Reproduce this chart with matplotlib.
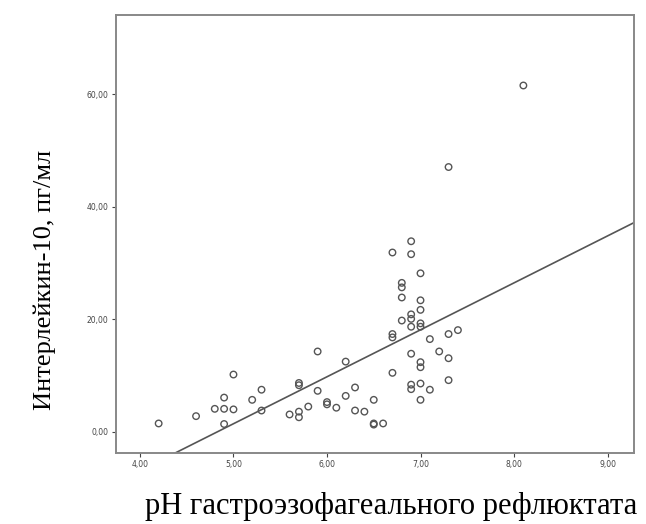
import numpy as np
import matplotlib.pyplot as plt
import matplotlib.ticker as ticker

# data

ph = [4.2, 4.6, 5.0, 4.9, 4.8, 4.9, 5.0, 4.9, 5.2, 5.3,
      5.3, 5.9, 6.2, 5.7, 5.7, 5.9, 5.6, 5.7, 5.7, 5.8,
      6.0, 6.0, 6.1, 6.2, 6.3, 6.3, 6.4, 6.5, 6.5, 6.5,
      6.6, 6.7, 6.7, 7.1, 7.3, 7.4, 6.9, 7.2, 7.3, 7.0,
      7.0, 6.7, 6.9, 6.9, 7.0, 7.1, 7.3, 7.0, 6.9, 6.7,
      6.9, 7.0, 6.8, 6.8, 6.8, 7.0, 7.0, 6.9, 6.9, 6.8,
      6.9, 7.0, 7.0, 8.1, 7.3]
il10 = [1.5, 2.8, 10.2, 6.1, 4.1, 4.1, 4.0, 1.4, 5.7, 7.5,
        3.8, 14.3, 12.5, 8.3, 8.7, 7.3, 3.1, 3.6, 2.6, 4.5,
        4.9, 5.3, 4.3, 6.4, 7.9, 3.8, 3.6, 5.7, 1.3, 1.5,
        1.5, 16.8, 17.4, 16.5, 17.4, 18.1, 13.9, 14.3, 13.1, 11.5,
        12.4, 10.5, 7.6, 8.4, 8.6, 7.5, 9.2, 5.7, 33.9, 31.9,
        31.6, 28.2, 26.5, 25.7, 23.9, 23.4, 21.7, 20.1, 20.9, 19.8,
        18.7, 18.7, 19.3, 61.6, 47.1]

# fitted line (slope, intercept)
fit_slope = 8.35
fit_intercept = -40.3

xticks = [4, 5, 6, 7, 8, 9]
yticks = [0, 20, 40, 60]

# plot

fig = plt.figure(figsize=(6.46, 5.24), dpi=100)
ax = fig.add_axes([0.179, 0.135, 0.802, 0.836])

ax.scatter(ph, il10, s=22, facecolors="none", edgecolors="#555555", linewidths=1.0, zorder=3)

xlim = (3.74, 9.28)
xs = np.array(xlim)
ax.plot(xs, fit_slope * xs + fit_intercept, color="#555555", lw=1.2, zorder=2)

ax.set_xlim(*xlim)
ax.set_ylim(-3.8, 74.1)
ax.set_xticks(xticks)
ax.set_yticks(yticks)
fmt = ticker.FuncFormatter(lambda v, p: f"{v:.2f}".replace(".", ","))
ax.xaxis.set_major_formatter(fmt)
ax.yaxis.set_major_formatter(fmt)
ax.tick_params(labelsize=5.5, colors="#444444", length=3, width=0.8, pad=2)

for s in ax.spines.values():
    s.set_color("#888888")
    s.set_linewidth(1.4)

fig.text(0.606, 0.006, "pH гастроэзофагеального рефлюктата", ha="center", va="bottom",
         family="Liberation Serif", fontsize=22)
fig.text(0.07, 0.466, "Интерлейкин-10, пг/мл", ha="center", va="center", rotation=90,
         family="Liberation Serif", fontsize=19)

fig.savefig("out.png", dpi=100)
